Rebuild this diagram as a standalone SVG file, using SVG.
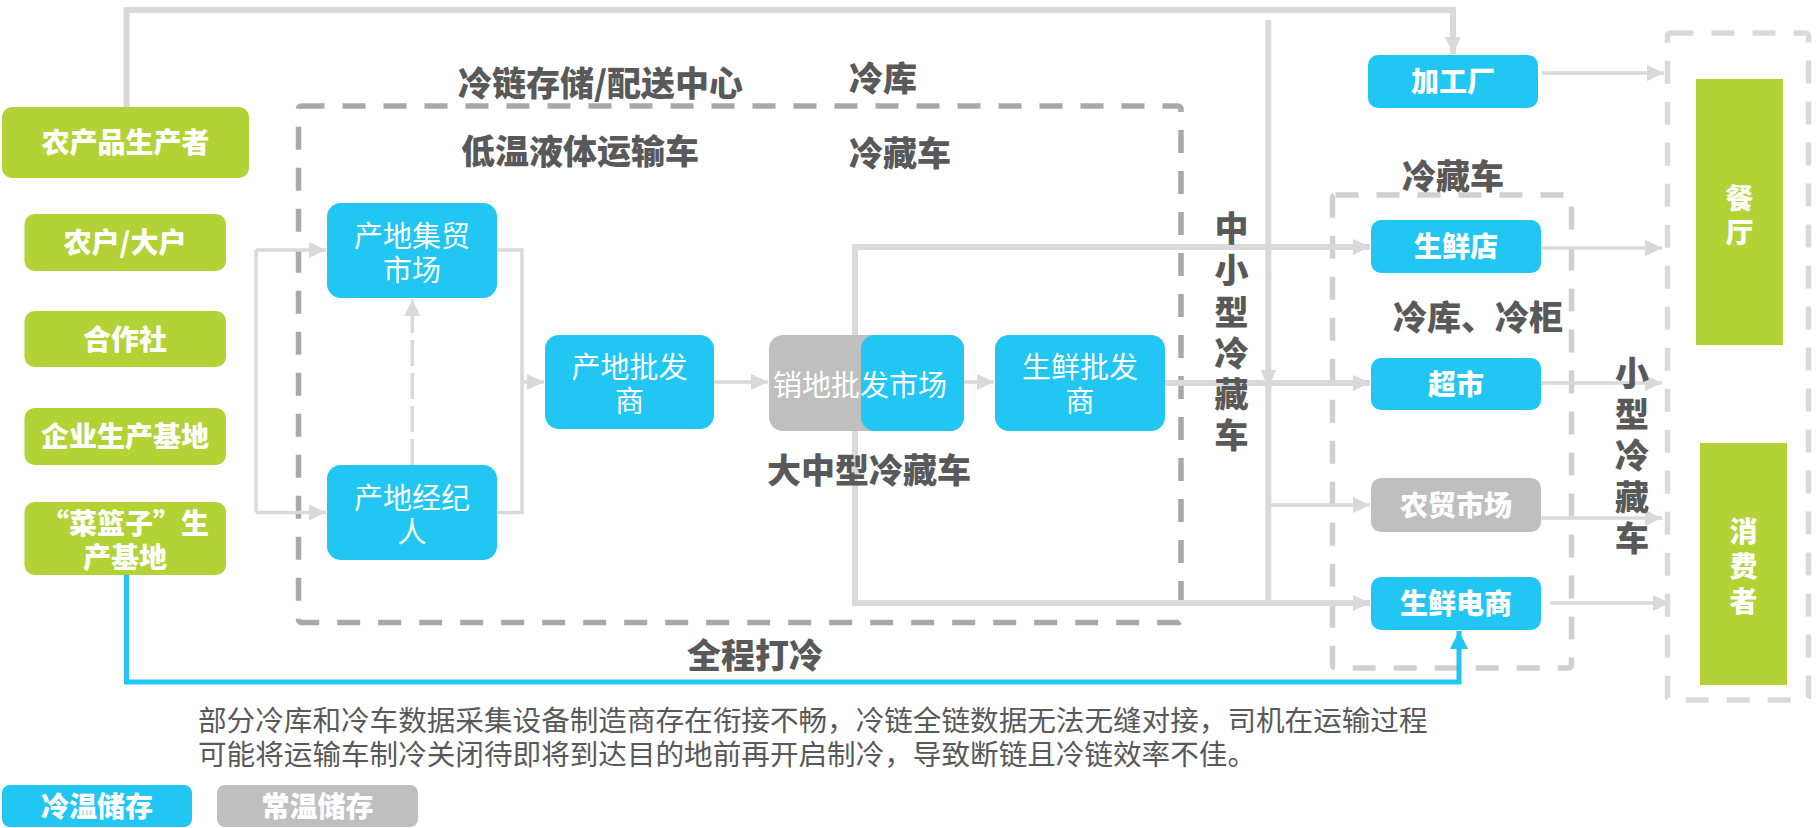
<svg xmlns="http://www.w3.org/2000/svg" width="1818" height="828" viewBox="0 0 1818 828">
<style>
text{font-family:"Noto Sans CJK SC","Noto Sans",sans-serif}
.lbl{font-size:34px;font-weight:900;fill:#595959}
.nb{font-size:28px;font-weight:900;fill:#fff;text-anchor:middle}
.nr{font-size:29px;font-weight:normal;fill:#fff;text-anchor:middle}
.para{font-size:28.6px;fill:#595959}
.green{fill:#b3d236}
.blue{fill:#21c6f2}
.gray{fill:#bfbfbf}
.ln{fill:none;stroke:#d9d9d9;stroke-width:6}
.thin{fill:none;stroke:#d9d9d9;stroke-width:3.5}
.dash{fill:none;stroke:#d9d9d9;stroke-width:3.5;stroke-dasharray:26 7}
.bl{fill:none;stroke:#21c6f2;stroke-width:5}
.box{fill:none;stroke-width:5.5;stroke-dasharray:23 18}
</style>
<defs>
<marker id="ag" markerUnits="userSpaceOnUse" markerWidth="18" markerHeight="18" refX="17" refY="9" orient="auto" viewBox="0 0 18 18">
<path d="M0,1 L17,9 L0,17 z" fill="#d9d9d9"/>
</marker>
<marker id="ab" markerUnits="userSpaceOnUse" markerWidth="20" markerHeight="20" refX="18" refY="10" orient="auto" viewBox="0 0 20 20">
<path d="M0,1 L18,10 L0,19 z" fill="#21c6f2"/>
</marker>
</defs>
<rect width="1818" height="828" fill="#fff"/>

<g id="containers">
<rect class="box" x="298.5" y="106" width="882.5" height="516.5" rx="3" stroke="#a8a8a8"/>
<rect class="box" x="1332.5" y="195" width="239" height="473" rx="3" stroke="#d0d0d0"/>
<rect class="box" x="1667.5" y="33" width="141" height="667" rx="3" stroke="#d9d9d9"/>
</g>

<g id="connectors">
<path class="ln" d="M126.5,107 V10 H1453 V54" marker-end="url(#ag)"/>
<path class="thin" d="M256,250 V512.5"/>
<path class="thin" d="M256,250 H326" marker-end="url(#ag)"/>
<path class="thin" d="M256,512.5 H326" marker-end="url(#ag)"/>
<path class="dash" d="M412.3,465 V299" marker-end="url(#ag)"/>
<path class="thin" d="M497,250 H522 V512.5 H497"/>
<path class="thin" d="M522,382 H544" marker-end="url(#ag)"/>
<path class="thin" d="M714,382 H768" marker-end="url(#ag)"/>
<path class="thin" d="M964,382 H994" marker-end="url(#ag)"/>
<path class="ln" d="M1165,383 H1370" marker-end="url(#ag)"/>
<path class="ln" d="M855,335 V247 H1370" marker-end="url(#ag)"/>
<path class="ln" d="M855,431 V603 H1370" marker-end="url(#ag)"/>
<path class="ln" d="M1268.3,20 V387" marker-end="url(#ag)"/>
<path class="ln" d="M1268.3,383 V603"/>
<path class="thin" d="M1268.3,505 H1370" marker-end="url(#ag)"/>
<path class="thin" d="M1542,73 H1664" marker-end="url(#ag)"/>
<path class="thin" d="M1541,248 H1662" marker-end="url(#ag)"/>
<path class="thin" d="M1541,383 H1662" marker-end="url(#ag)"/>
<path class="thin" d="M1541,518 H1662" marker-end="url(#ag)"/>
<path class="thin" d="M1550,603 H1670" marker-end="url(#ag)"/>
<path class="bl" d="M126.5,575 V682 H1459 V631" marker-end="url(#ab)"/>
</g>

<g id="labels">
<text class="lbl" x="458" y="95.5">冷链存储/配送中心</text>
<text class="lbl" x="849" y="91">冷库</text>
<text class="lbl" x="461" y="164">低温液体运输车</text>
<text class="lbl" x="849" y="165.5">冷藏车</text>
<text class="lbl" x="767" y="483">大中型冷藏车</text>
<text class="lbl" x="687" y="668">全程打冷</text>
<text class="lbl" x="1402" y="189">冷藏车</text>
<text class="lbl" x="1393" y="330">冷库、冷柜</text>
<text class="lbl" text-anchor="middle"><tspan x="1231.5" y="241">中</tspan><tspan x="1231.5" y="283">小</tspan><tspan x="1231.5" y="325">型</tspan><tspan x="1231.5" y="366">冷</tspan><tspan x="1231.5" y="407">藏</tspan><tspan x="1231.5" y="448">车</tspan></text>
<text class="lbl" text-anchor="middle"><tspan x="1632" y="386">小</tspan><tspan x="1632" y="427">型</tspan><tspan x="1632" y="468">冷</tspan><tspan x="1632" y="510">藏</tspan><tspan x="1632" y="551">车</tspan></text>
<text class="para" x="198" y="731">部分冷库和冷车数据采集设备制造商存在衔接不畅，冷链全链数据无法无缝对接，司机在运输过程</text>
<text class="para" x="198" y="765">可能将运输车制冷关闭待即将到达目的地前再开启制冷，导致断链且冷链效率不佳。</text>
</g>

<g id="n-producer"><rect class="green" x="2" y="107" width="247" height="71" rx="10"/><text class="nb" x="125.5" y="153">农产品生产者</text></g>
<g id="n-farmer"><rect class="green" x="24.5" y="214" width="201.5" height="57" rx="10"/><text class="nb" x="125" y="253">农户/大户</text></g>
<g id="n-coop"><rect class="green" x="24.5" y="311" width="201.5" height="56" rx="10"/><text class="nb" x="125" y="349.5">合作社</text></g>
<g id="n-enterprise"><rect class="green" x="24.5" y="408" width="201.5" height="57" rx="10"/><text class="nb" x="125" y="447">企业生产基地</text></g>
<g id="n-basket"><rect class="green" x="24.5" y="502" width="201.5" height="73" rx="10"/><text class="nb"><tspan x="125" y="534">“菜篮子”生</tspan><tspan x="125" y="567.5">产基地</tspan></text></g>

<g id="n-market"><rect class="blue" x="327" y="203" width="170" height="95" rx="14"/><text class="nr"><tspan x="412" y="247">产地集贸</tspan><tspan x="412" y="281">市场</tspan></text></g>
<g id="n-broker"><rect class="blue" x="327" y="465" width="170" height="95" rx="14"/><text class="nr"><tspan x="412" y="508.5">产地经纪</tspan><tspan x="412" y="542.5">人</tspan></text></g>
<g id="n-origin-wholesale"><rect class="blue" x="545" y="335" width="169" height="94" rx="14"/><text class="nr"><tspan x="629.5" y="377.5">产地批发</tspan><tspan x="629.5" y="412">商</tspan></text></g>
<g id="n-sales-market"><rect class="gray" x="769" y="335" width="195" height="96" rx="14"/><rect class="blue" x="861" y="335" width="103" height="96" rx="14"/><text class="nr" x="860" y="396">销地批发市场</text></g>
<g id="n-fresh-wholesale"><rect class="blue" x="995" y="335" width="170" height="96" rx="14"/><text class="nr"><tspan x="1080" y="378">生鲜批发</tspan><tspan x="1080" y="412">商</tspan></text></g>

<g id="n-factory"><rect class="blue" x="1368" y="55" width="170" height="53" rx="10"/><text class="nb" x="1453" y="92">加工厂</text></g>
<g id="n-fresh-store"><rect class="blue" x="1371" y="220" width="170" height="53" rx="10"/><text class="nb" x="1456" y="257">生鲜店</text></g>
<g id="n-supermarket"><rect class="blue" x="1371" y="358" width="170" height="52" rx="10"/><text class="nb" x="1456" y="394.5">超市</text></g>
<g id="n-farm-market"><rect class="gray" x="1371" y="478" width="170" height="54" rx="10"/><text class="nb" x="1456" y="515.5">农贸市场</text></g>
<g id="n-ecommerce"><rect class="blue" x="1371" y="577" width="170" height="53" rx="10"/><text class="nb" x="1456" y="614">生鲜电商</text></g>

<g id="n-restaurant"><rect class="green" x="1696" y="79" width="87" height="266"/><text class="nb"><tspan x="1739.5" y="208.5">餐</tspan><tspan x="1739.5" y="243">厅</tspan></text></g>
<g id="n-consumer"><rect class="green" x="1700" y="443" width="87" height="242"/><text class="nb"><tspan x="1743.5" y="541.5">消</tspan><tspan x="1743.5" y="576.5">费</tspan><tspan x="1743.5" y="611.5">者</tspan></text></g>

<g id="legend-cold"><rect class="blue" x="2" y="785" width="190" height="42" rx="8"/><text class="nb" x="97" y="816.5">冷温储存</text></g>
<g id="legend-normal"><rect class="gray" x="217" y="785" width="201" height="42" rx="8"/><text class="nb" x="317.5" y="816.5">常温储存</text></g>
</svg>
